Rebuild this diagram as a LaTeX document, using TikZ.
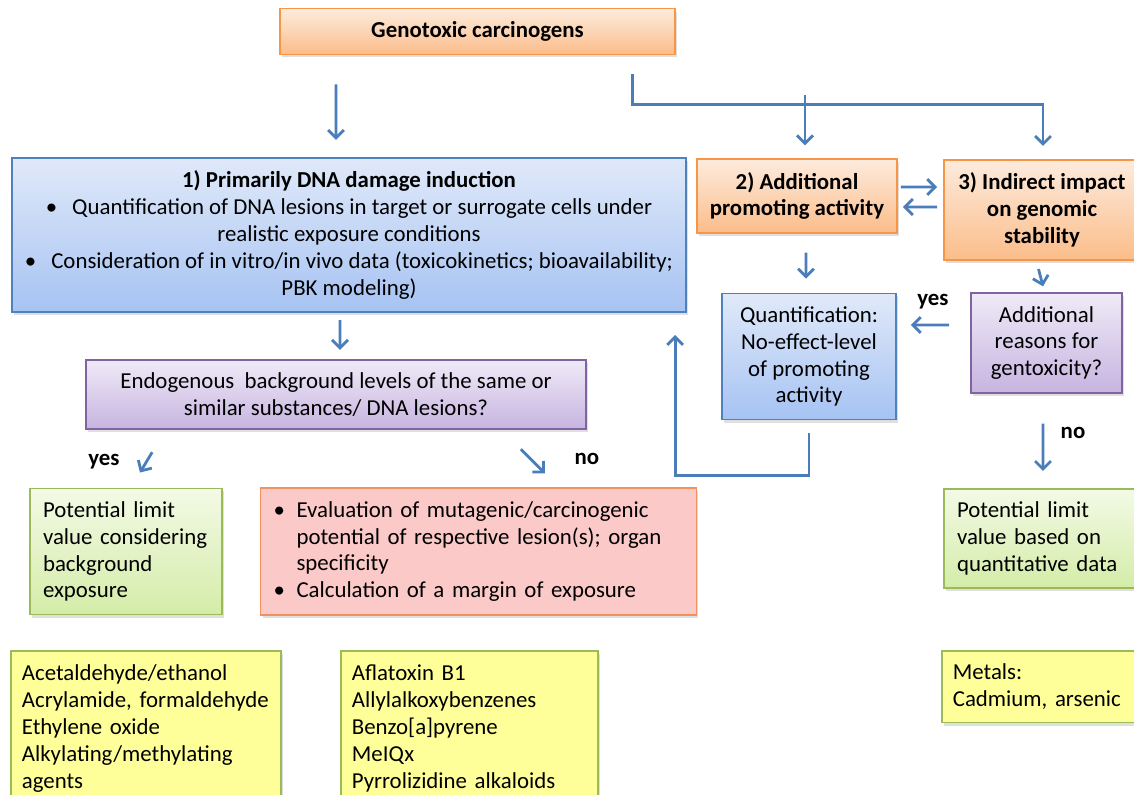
\documentclass[tikz,border=0pt]{standalone}
\usepackage{fontspec}
\setmainfont{Carlito}
\usetikzlibrary{arrows.meta,shadows,positioning}
\hyphenpenalty=10000

\definecolor{arrowblue}{HTML}{4A7EBB}
\definecolor{orangeline}{HTML}{F79646}
\definecolor{orangetop}{HTML}{FDEBDD}
\definecolor{orangebot}{HTML}{FBBD8A}
\definecolor{blueline}{HTML}{4F81BD}
\definecolor{bluetop}{HTML}{E0E9F9}
\definecolor{bluebot}{HTML}{A6C3F3}
\definecolor{purpleline}{HTML}{8064A2}
\definecolor{purpletop}{HTML}{EFEAF7}
\definecolor{purplebot}{HTML}{C7B4E0}
\definecolor{greenline}{HTML}{9BBB59}
\definecolor{greentop}{HTML}{F3FAE6}
\definecolor{greenbot}{HTML}{D4ECA8}
\definecolor{redline}{HTML}{F3915E}
\definecolor{redfill}{HTML}{FCC9C9}
\definecolor{yellowfill}{HTML}{FFFF99}

\tikzset{
  box/.style={draw, line width=1pt, inner sep=0.26cm,
    font=\fontsize{13}{15.3}\selectfont,
    drop shadow={shadow xshift=0.04cm, shadow yshift=-0.06cm, opacity=0.25}},
  orangebox/.style={box, draw=orangeline, top color=orangetop, bottom color=orangebot, align=center},
  bluebox/.style={box, draw=blueline, top color=bluetop, bottom color=bluebot, align=center},
  purplebox/.style={box, draw=purpleline, top color=purpletop, bottom color=purplebot, align=center},
  greenbox/.style={box, draw=greenline, top color=greentop, bottom color=greenbot, align=left},
  redbox/.style={box, draw=redline, fill=redfill, align=left},
  yellowbox/.style={box, draw=greenline, fill=yellowfill, align=left, anchor=north west, inner xsep=0.22cm},
  arr/.style={draw=arrowblue, line width=1.6pt, -{Straight Barb[length=4.5pt,width=9pt]}},
  lbl/.style={font=\fontsize{13}{15.3}\selectfont\bfseries}
}

\begin{document}
\begin{tikzpicture}[x=0.02cm, y=-0.02cm]
  \clip (0,0) rectangle (1134,795);
  % boxes
  \node[orangebox, minimum width=7.9cm, minimum height=0.78cm] (gen) at (477.5,31.5)
    {\textbf{Genotoxic carcinogens}};
  \node[bluebox, minimum width=13.4cm, minimum height=2.92cm] (dna) at (349,235)
    {\textbf{1) Primarily DNA damage induction}\\
     \textbullet\hspace{0.3cm}Quantification of DNA lesions in target or surrogate cells under\\
     realistic exposure conditions\\
     \textbullet\hspace{0.3cm}Consideration of in vitro/in vivo data (toxicokinetics; bioavailability;\\
     PBK modeling)};
  \node[orangebox, minimum width=3.92cm, minimum height=1.32cm] (prom) at (797,196)
    {\textbf{2) Additional}\\ \textbf{promoting activity}};
  \node[orangebox, minimum width=3.92cm, minimum height=1.88cm] (ind) at (1042,210)
    {\textbf{3) Indirect impact}\\ \textbf{on genomic}\\ \textbf{stability}};
  \node[bluebox, minimum width=3.48cm, minimum height=2.42cm] (quant) at (809,356.5)
    {Quantification:\\ No-effect-level\\ of promoting\\ activity};
  \node[purplebox, minimum width=3.02cm, minimum height=1.88cm] (reas) at (1046.5,343)
    {Additional\\ reasons for\\ gentoxicity?};
  \node[purplebox, minimum width=10cm, minimum height=1.34cm] (endo) at (336,394.5)
    {Endogenous\ \ background levels of the same or\\ similar substances/\ DNA lesions?};
  \node[greenbox, minimum width=3.84cm, minimum height=2.38cm, text width=3.32cm] (lim1) at (126,551.5)
    {Potential limit\\ value considering\\ background\\ exposure};
  \node[redbox, minimum width=8.7cm, minimum height=2.38cm, text width=8.2cm] (eval) at (478.5,551.5)
    {\makebox[0.46cm][l]{\textbullet}Evaluation of mutagenic/carcinogenic\\
     \hspace*{0.46cm}potential of respective lesion(s); organ\\
     \hspace*{0.46cm}specificity\\
     \makebox[0.46cm][l]{\textbullet}Calculation of a margin of exposure};
  \node[greenbox, minimum width=3.92cm, minimum height=1.86cm, text width=3.4cm] (lim2) at (1042,538.5)
    {Potential limit\\ value based on\\ quantitative data};
  \node[yellowbox, minimum width=5.4cm, minimum height=3.1cm, text width=4.96cm] (ex1) at (10,650)
    {Acetaldehyde/ethanol\\ Acrylamide, formaldehyde\\ Ethylene oxide\\ Alkylating/methylating\\ agents};
  \node[yellowbox, minimum width=5.14cm, minimum height=3.1cm, text width=4.7cm] (ex2) at (340,650)
    {Aflatoxin B1\\ Allylalkoxybenzenes\\ Benzo[a]pyrene\\ MeIQx\\ Pyrrolizidine alkaloids};
  \node[yellowbox, minimum width=4.2cm, minimum height=1.32cm, text width=3.76cm] (ex3) at (941,650)
    {Metals:\\ Cadmium, arsenic};
  % arrows
  \coordinate (fork) at ([xshift=-0.86cm,yshift=-0.98cm]gen.south east);
  \draw[arr] ([xshift=-2.83cm,yshift=-0.58cm]gen.south) -- ([xshift=-0.26cm,yshift=0.34cm]dna.north);
  \draw[arr] ([xshift=-0.86cm,yshift=-0.38cm]gen.south east) -- (fork) -| ([xshift=0.02cm,yshift=0.26cm]ind.north);
  \draw[arr] ([xshift=0.16cm,yshift=1.26cm]prom.north) -- ([xshift=0.16cm,yshift=0.26cm]prom.north);
  \draw[arr] ([xshift=0.06cm,yshift=0.18cm]prom.east) -- ([xshift=-0.12cm,yshift=0.46cm]ind.west);
  \draw[arr] ([xshift=-0.12cm,yshift=0.06cm]ind.west) -- ([xshift=0.1cm,yshift=-0.22cm]prom.east);
  \draw[arr] ([xshift=0.18cm,yshift=-0.38cm]prom.south) -- ([xshift=-0.06cm,yshift=0.28cm]quant.north);
  \draw[arr] ([xshift=-0.07cm,yshift=-0.16cm]ind.south) -- ([xshift=-0.07cm,yshift=0.12cm]reas.north);
  \draw[arr] ([xshift=-0.42cm,yshift=0.36cm]reas.west) -- ([xshift=0.28cm,yshift=0.63cm]quant.east);
  \draw[arr] ([xshift=-0.07cm,yshift=-0.6cm]reas.south) -- ([xshift=0.02cm,yshift=0.34cm]lim2.north);
  \draw[arr] ([xshift=-0.18cm,yshift=-0.14cm]dna.south) -- ([xshift=0.08cm,yshift=0.18cm]endo.north);
  \draw[arr] ([xshift=1.34cm,yshift=-0.44cm]endo.south west) -- ([xshift=0.28cm,yshift=0.3cm]lim1.north);
  \draw[arr] ([xshift=-1.32cm,yshift=-0.38cm]endo.south east) -- ([xshift=1.33cm,yshift=0.28cm]eval.north);
  \draw[arr] ([yshift=-0.26cm]quant.south) -- ++(0,42) -| ([xshift=-0.92cm,yshift=0.43cm]quant.west);
  % labels
  \node[lbl] (yesr) at (933,302) {yes};
  \node[lbl] (nor) at (1073,433) {no};
  \node[lbl] (yesl) at (104,462) {yes};
  \node[lbl] (nol) at (587,459) {no};
\end{tikzpicture}
\end{document}
